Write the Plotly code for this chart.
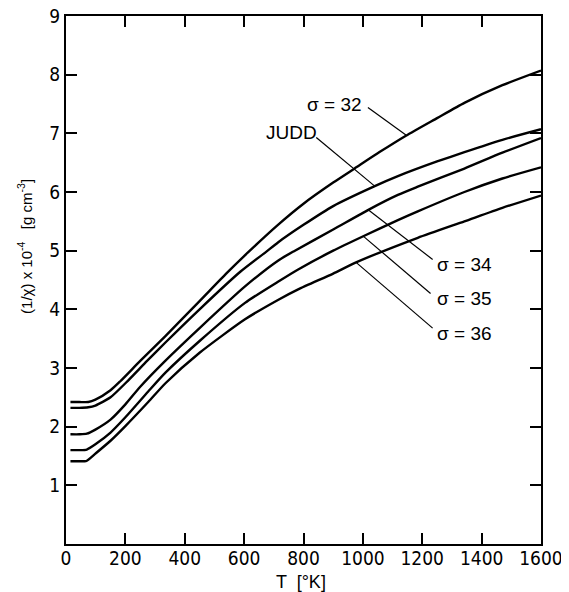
import plotly.graph_objects as go

# ---- data ----
T_s32 = [15, 45, 75, 99, 150, 182, 250, 334, 450, 542, 613, 714, 800, 900, 972, 1056, 1145, 1250, 1342, 1470, 1600]
V_s32 = [2.42, 2.42, 2.42, 2.46, 2.62, 2.77, 3.12, 3.54, 4.14, 4.62, 4.97, 5.44, 5.80, 6.16, 6.40, 6.68, 6.96, 7.26, 7.52, 7.82, 8.07]

T_judd = [15, 45, 75, 99, 150, 210, 273, 334, 450, 587, 674, 714, 800, 900, 1040, 1118, 1250, 1342, 1470, 1600]
V_judd = [2.32, 2.32, 2.33, 2.36, 2.50, 2.79, 3.12, 3.43, 4.00, 4.64, 4.98, 5.14, 5.44, 5.76, 6.10, 6.27, 6.52, 6.68, 6.89, 7.07]

T_s34 = [15, 45, 70, 99, 150, 200, 250, 330, 450, 603, 714, 771, 900, 1020, 1118, 1185, 1342, 1470, 1600]
V_s34 = [1.87, 1.87, 1.88, 1.95, 2.12, 2.38, 2.68, 3.10, 3.68, 4.39, 4.83, 5.00, 5.36, 5.70, 5.95, 6.09, 6.40, 6.67, 6.92]

T_s35 = [15, 45, 70, 99, 150, 200, 277, 335, 450, 603, 714, 782, 900, 1003, 1118, 1185, 1342, 1470, 1600]
V_s35 = [1.60, 1.60, 1.61, 1.70, 1.90, 2.16, 2.60, 2.92, 3.46, 4.11, 4.47, 4.68, 5.00, 5.25, 5.52, 5.67, 6.00, 6.23, 6.42]

T_s36 = [15, 40, 62, 69, 99, 150, 200, 277, 335, 450, 603, 714, 782, 900, 977, 1185, 1342, 1470, 1600]
V_s36 = [1.41, 1.41, 1.41, 1.415, 1.54, 1.76, 2.01, 2.42, 2.74, 3.26, 3.83, 4.16, 4.34, 4.61, 4.80, 5.22, 5.50, 5.73, 5.94]

series = [
    ("σ = 32", T_s32, V_s32),
    ("JUDD", T_judd, V_judd),
    ("σ = 34", T_s34, V_s34),
    ("σ = 35", T_s35, V_s35),
    ("σ = 36", T_s36, V_s36),
]

x_ticks = [0, 200, 400, 600, 800, 1000, 1200, 1400, 1600]
y_ticks = [1, 2, 3, 4, 5, 6, 7, 8, 9]

# label text, label anchor (T, value), leader tail (T, value), leader head on curve (T, value), x-anchor
labels = [
    ("σ = 32", 1005, 7.49, 1017, 7.44, 1145, 6.97, "right"),
    ("JUDD", 761, 7.02, 843, 6.93, 1040, 6.10, "center"),
    ("σ = 34", 1242, 4.76, 1235, 4.85, 1020, 5.69, "left"),
    ("σ = 35", 1242, 4.19, 1228, 4.27, 1003, 5.24, "left"),
    ("σ = 36", 1242, 3.58, 1235, 3.68, 977, 4.80, "left"),
]

FONT = "DejaVu Sans Condensed, Liberation Sans Narrow, Liberation Sans, Arial, sans-serif"
LFONT = "Liberation Sans, Arial, sans-serif"

fig = go.Figure()
for name, t, v in series:
    fig.add_trace(go.Scatter(
        x=t, y=v, mode="lines", name=name,
        line=dict(color="black", width=2.4, shape="spline", smoothing=0.6),
        showlegend=False, hoverinfo="skip",
    ))

for text, tx, ty, x0, y0, x1, y1, anchor in labels:
    fig.add_shape(type="line", x0=x0, y0=y0, x1=x1, y1=y1,
                  line=dict(color="black", width=1.2), layer="above")
    fig.add_annotation(x=tx, y=ty, text=text, showarrow=False,
                       xanchor=anchor, yanchor="middle",
                       font=dict(family=LFONT, size=19, color="black"))

axis_common = dict(
    showgrid=False, zeroline=False, showline=True, linecolor="black", linewidth=2,
    mirror="ticks", ticks="inside", ticklen=11, tickwidth=1.5, tickcolor="black",
    tickfont=dict(family=FONT, size=19, color="black"), automargin=False,
    ticklabeloverflow="allow",
)

fig.update_xaxes(range=[0, 1600], tickvals=x_ticks, ticktext=[str(v) for v in x_ticks],
                 ticklabelstandoff=-4, **axis_common)
fig.update_yaxes(range=[0, 9], tickvals=y_ticks, ticktext=[str(v) for v in y_ticks],
                 **axis_common)

# axis titles placed as in the reference
fig.add_annotation(xref="paper", yref="paper", x=0.495, y=-0.072,
                   text="T  [°K]", showarrow=False, xanchor="center", yanchor="middle",
                   font=dict(family=LFONT, size=18, color="black"))
fig.add_annotation(xref="paper", yref="paper", x=-0.086, y=0.563,
                   text="(1/χ) x 10<sup>-4</sup>   [g cm<sup>-3</sup>]", textangle=-90,
                   showarrow=False, xanchor="center", yanchor="middle",
                   font=dict(family=LFONT, size=15, color="black"))

# the page body adds an 8 px offset; size the figure so it fits the 569x592 window
fig.update_layout(
    width=561, height=584,
    margin=dict(l=58, r=28, t=8, b=48),
    paper_bgcolor="white", plot_bgcolor="white",
)

fig.write_html("out.html")
